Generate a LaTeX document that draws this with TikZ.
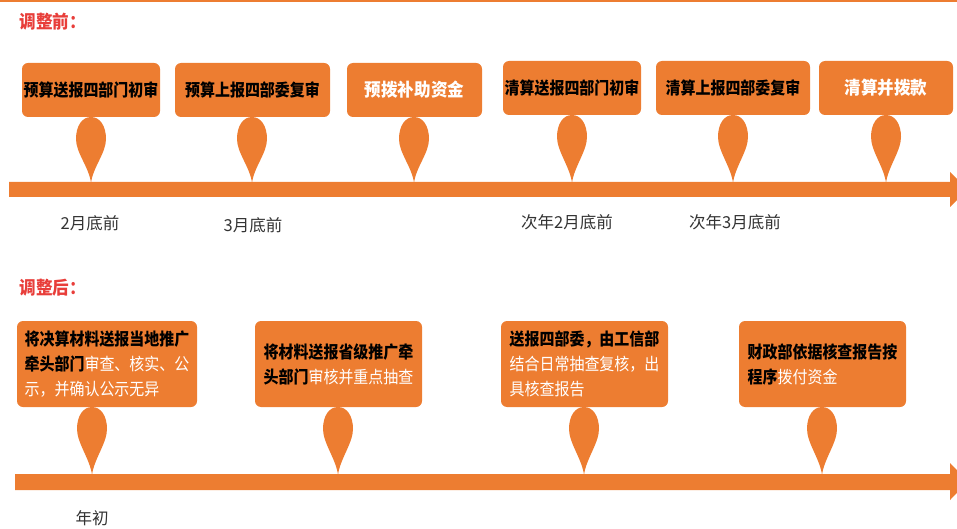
\documentclass[tikz,border=0pt]{standalone}
\usepackage{fontspec}
\setmainfont{Noto Sans CJK SC}
\newfontfamily\cnd[FakeStretch=0.88]{Noto Sans CJK SC}
\newfontfamily\cndt[FakeStretch=0.92]{Noto Sans CJK SC}
\definecolor{org}{HTML}{ED7D31}
\definecolor{ttl}{RGB}{232,62,58}
\definecolor{lbl}{HTML}{333333}
\newcommand\mypin[3]{\fill[org] (#1,#3) .. controls (#1+2,#3-16) and (#1+15,#2+36) .. (#1+15,#2+22) .. controls (#1+15,#2+9) and (#1+9,#2) .. (#1,#2) .. controls (#1-9,#2) and (#1-15,#2+9) .. (#1-15,#2+22) .. controls (#1-15,#2+36) and (#1-2,#3-16) .. cycle;}
\begin{document}
\begin{tikzpicture}[x=1pt,y=-1pt,
  box/.style={fill=org, rounded corners=6pt, inner sep=0pt},
  topbox/.style={box, minimum height=54pt, font=\cnd\bfseries\fontsize{17}{20}\selectfont, text=black},
  topboxw/.style={box, minimum height=54pt, font=\cndt\bfseries\fontsize{18}{21}\selectfont, text=white},
  botbox/.style={box, minimum height=86pt, minimum width=167pt, align=left, font=\cnd\fontsize{17}{25}\selectfont},
  timelbl/.style={font=\fontsize{16.5}{19}\selectfont, text=lbl},
  title/.style={font=\cndt\bfseries\fontsize{18}{21}\selectfont, text=ttl, anchor=west}]
\useasboundingbox (0,0) rectangle (957,529);
\fill[org] (0,0) rectangle (957,2.5);

% ---------- before ----------
\node[title] (h1) at (16,22) {调整前：};

\node[topbox, minimum width=138pt] (t1) at (91,90) {预算送报四部门初审};
\node[topbox, minimum width=155pt] (t2) at (252.5,90) {预算上报四部委复审};
\node[topboxw, minimum width=135pt] (t3) at (414.5,90) {预拨补助资金};
\node[topbox, minimum width=138pt] (t4) at (572,88) {清算送报四部门初审};
\node[topbox, minimum width=154pt] (t5) at (733,88) {清算上报四部委复审};
\node[topboxw, minimum width=134pt] (t6) at (886,88) {清算并拨款};

\mypin{91}{117}{183}
\mypin{252}{117}{183}
\mypin{414}{117}{183}
\mypin{572}{115}{183}
\mypin{733}{115}{183}
\mypin{886}{115}{183}

\fill[org] (9,182) -- (950,182) -- (950,172) -- (968,189.5) -- (950,207) -- (950,197) -- (9,197) -- cycle;

\node[timelbl] (l1) at (90,223) {2月底前};
\node[timelbl] (l2) at (253,225) {3月底前};
\node[timelbl] (l3) at (567,222) {次年2月底前};
\node[timelbl] (l4) at (735,222) {次年3月底前};

% ---------- after ----------
\node[title] (h2) at (16,288) {调整后：};

\node[botbox, minimum width=180pt] (b1) at (107,364)
  {\textbf{将决算材料送报当地推广}\\\textbf{牵头部门}{\color{white}审查、核实、公}\\{\color{white}示，并确认公示无异}};
\node[botbox] (b2) at (338.5,364)
  {\textbf{将材料送报省级推广牵}\\\textbf{头部门}{\color{white}审核并重点抽查}};
\node[botbox] (b3) at (584.5,364)
  {\textbf{送报四部委，由工信部}\\{\color{white}结合日常抽查复核，出}\\{\color{white}具核查报告}};
\node[botbox] (b4) at (822.5,364)
  {\textbf{财政部依据核查报告按}\\\textbf{程序}{\color{white}拨付资金}};

\mypin{92}{407}{475}
\mypin{338}{407}{475}
\mypin{584}{407}{475}
\mypin{822}{407}{475}

\fill[org] (15,474) -- (950,474) -- (950,463) -- (968,481.5) -- (950,500) -- (950,490) -- (15,490) -- cycle;

\node[timelbl] (l5) at (92,518) {年初};
\end{tikzpicture}
\end{document}
